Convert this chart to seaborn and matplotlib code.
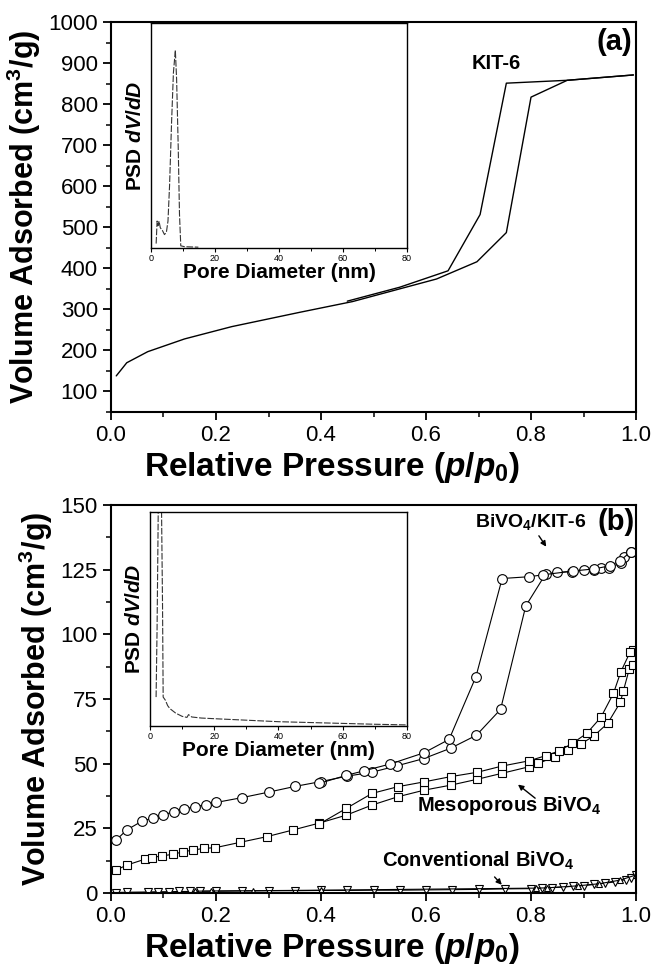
import matplotlib
matplotlib.use("Agg")
import matplotlib.pyplot as plt
import seaborn as sns
from matplotlib.ticker import MultipleLocator

sns.set_style("ticks")
plt.rcParams['font.family'] = ['Liberation Sans', 'DejaVu Sans']
plt.rcParams['mathtext.fontset'] = 'custom'
plt.rcParams['mathtext.rm'] = 'Liberation Sans:bold'
plt.rcParams['mathtext.bf'] = 'Liberation Sans:bold'
plt.rcParams['mathtext.it'] = 'Liberation Sans:bold:italic'
plt.rcParams['mathtext.sf'] = 'Liberation Sans:bold'
for key in ('text.color', 'axes.labelcolor', 'xtick.color', 'ytick.color', 'axes.edgecolor'):
    plt.rcParams[key] = 'black'

# (a) KIT-6 isotherm
kit_ads_p = [0.01, 0.03, 0.07, 0.14, 0.23, 0.36, 0.46, 0.55, 0.62, 0.697, 0.753, 0.80, 0.869, 0.995]
kit_ads_v = [138, 170, 197, 228, 258, 293, 319, 350, 374, 416, 487, 817, 858, 871]
kit_des_p = [0.995, 0.869, 0.753, 0.703, 0.642, 0.55, 0.45]
kit_des_v = [871, 858, 851, 531, 394, 354, 320]

# (a) inset PSD
kit_psd_d = [1.6, 1.9, 2.2, 2.5, 2.9, 3.5, 4.2, 4.8, 5.3, 5.8, 6.4, 7.0, 7.6, 8.0, 8.5, 8.9, 9.3, 10.5, 12.5, 14.8]
kit_psd_v = [0.02, 0.12, 0.10, 0.12, 0.09, 0.08, 0.06, 0.07, 0.12, 0.28, 0.55, 0.78, 0.88, 0.75, 0.45, 0.15, 0.01, 0.006, 0.005, 0.004]

# (b) BiVO4/KIT-6 (circles)
cir_ads_p = [0.01, 0.03, 0.06, 0.08, 0.10, 0.12, 0.14, 0.16, 0.18, 0.20, 0.25, 0.30, 0.35, 0.40, 0.45, 0.497,
             0.545, 0.596, 0.647, 0.696, 0.742, 0.79, 0.828, 0.85, 0.879, 0.90, 0.92, 0.933, 0.949, 0.971, 0.978, 0.99]
cir_ads_v = [20.5, 24.4, 27.9, 28.9, 30.2, 31.5, 32.5, 33.4, 34.1, 35.0, 36.9, 39.0, 41.2, 43.1, 45.2, 46.7,
             49.2, 52.0, 56.0, 61.0, 71.0, 111.0, 123.4, 124.0, 124.3, 125.0, 124.7, 125.8, 125.8, 127.6, 130.0, 132.0]
cir_des_p = [0.99, 0.97, 0.95, 0.92, 0.88, 0.822, 0.797, 0.745, 0.695, 0.644, 0.596, 0.532, 0.481, 0.448, 0.397]
cir_des_v = [132.0, 128.5, 126.5, 125.3, 124.5, 123.0, 122.3, 121.6, 83.6, 59.4, 54.2, 49.9, 47.2, 45.5, 42.4]

# (b) Mesoporous BiVO4 (squares)
sq_ads_p = [0.01, 0.03, 0.065, 0.078, 0.098, 0.119, 0.138, 0.157, 0.177, 0.198, 0.246, 0.297, 0.347, 0.396,
            0.448, 0.497, 0.546, 0.597, 0.647, 0.698, 0.745, 0.796, 0.814, 0.845, 0.87, 0.895, 0.92, 0.946,
            0.97, 0.976, 0.987, 0.995]
sq_ads_v = [8.9, 10.8, 13.1, 13.7, 14.4, 15.0, 16.0, 16.6, 17.3, 17.5, 19.6, 21.8, 24.4, 27.0,
            30.1, 34.0, 37.2, 39.8, 41.7, 44.0, 46.3, 48.8, 50.1, 52.7, 55.3, 57.6, 60.8, 65.6,
            73.7, 78.2, 86.5, 88.0]
sq_des_p = [0.995, 0.989, 0.971, 0.957, 0.933, 0.906, 0.879, 0.853, 0.828, 0.796, 0.745, 0.698, 0.647,
            0.597, 0.546, 0.497, 0.448, 0.396]
sq_des_v = [94.0, 93.3, 85.5, 77.2, 67.9, 61.7, 57.9, 54.9, 53.1, 51.1, 49.1, 46.7, 45.0,
            43.0, 41.1, 38.5, 32.7, 26.6]

# (b) Conventional BiVO4 (triangles)
tri_ads_p = [0.01, 0.03, 0.07, 0.09, 0.11, 0.13, 0.15, 0.17, 0.2, 0.25, 0.3, 0.35, 0.4, 0.45, 0.5, 0.55,
             0.6, 0.65, 0.7, 0.75, 0.8, 0.82, 0.84, 0.86, 0.88, 0.9, 0.92, 0.94, 0.96, 0.98, 0.99, 1.0]
tri_ads_v = [0.2, 0.3, 0.4, 0.5, 0.5, 0.6, 0.6, 0.7, 0.7, 0.8, 0.9, 0.9, 1.0, 1.0, 1.1, 1.1,
             1.2, 1.3, 1.4, 1.6, 1.7, 1.9, 2.1, 2.3, 2.6, 2.9, 3.3, 3.8, 4.3, 5.2, 5.9, 6.8]
tri_des_p = [1.0, 0.97, 0.93, 0.89, 0.83, 0.81, 0.4, 0.27, 0.19, 0.16]
tri_des_v = [7.0, 5.0, 3.6, 2.8, 2.0, 1.9, 1.1, 0.9, 0.8, 0.7]

# (b) inset PSD
bv_psd_d = [1.9, 2.2, 2.5, 2.8, 3.2, 3.6, 3.9, 4.1, 4.8, 5.5, 6.2, 8, 10, 11.5, 12, 13, 16, 20, 30, 40, 50, 60, 70, 80]
bv_psd_v = [0.135, 0.45, 0.9, 1.4, 1.6, 1.0, 0.57, 0.135, 0.12, 0.095, 0.081, 0.06, 0.045, 0.04, 0.053, 0.042,
            0.037, 0.034, 0.027, 0.02, 0.016, 0.012, 0.008, 0.005]

fig = plt.figure(figsize=(6.51, 9.69), dpi=100)
ax_a = fig.add_axes([0.1705, 0.5748, 0.8065, 0.4025])
ax_b = fig.add_axes([0.1705, 0.0784, 0.8065, 0.4004])
ins_a = fig.add_axes([0.232, 0.744, 0.393, 0.232])
ins_b = fig.add_axes([0.2304, 0.2508, 0.3948, 0.221])

xlabel = r'Relative Pressure ($p/p_0$)'
ylabel = r'Volume Adsorbed (cm$^3$/g)'

for ax in (ax_a, ax_b):
    for s in ax.spines.values():
        s.set_linewidth(1.5)
    ax.set_xlim(0, 1.0)
    ax.xaxis.set_major_locator(MultipleLocator(0.2))
    ax.xaxis.set_minor_locator(MultipleLocator(0.1))
    ax.xaxis.set_major_formatter(matplotlib.ticker.FormatStrFormatter('%.1f'))
    ax.tick_params(which='major', direction='out', length=6, width=1.3, labelsize=16, top=False, right=False)
    ax.tick_params(which='minor', direction='out', length=3.5, width=1.1, top=False, right=False)
    ax.set_xlabel(xlabel, fontsize=24, fontweight='bold')
    ax.xaxis.set_label_coords(0.42, -0.098)
    ax.set_ylabel(ylabel, fontsize=22, fontweight='bold', labelpad=4)

# panel (a)
sns.lineplot(x=kit_ads_p, y=kit_ads_v, sort=False, estimator=None, color='k', lw=1.0, ax=ax_a)
sns.lineplot(x=kit_des_p, y=kit_des_v, sort=False, estimator=None, color='k', lw=1.0, ax=ax_a)
ax_a.set_ylim(50, 1000)
ax_a.yaxis.set_minor_locator(MultipleLocator(50))
ax_a.set_yticks(range(100, 1001, 100))
ax_a.text(0.733, 900, 'KIT-6', fontsize=14.5, fontweight='bold', ha='center', va='center')
ax_a.text(0.958, 952, '(a)', fontsize=21, fontweight='bold', ha='center', va='center')

# panel (b)
mk = dict(color='k', lw=0.8, markerfacecolor='white', markeredgecolor='k', markeredgewidth=0.8)
sns.lineplot(x=cir_ads_p, y=cir_ads_v, sort=False, estimator=None, marker='o', markersize=7, ax=ax_b, **mk)
sns.lineplot(x=cir_des_p, y=cir_des_v, sort=False, estimator=None, marker='o', markersize=7, ax=ax_b, **mk)
sns.lineplot(x=sq_ads_p, y=sq_ads_v, sort=False, estimator=None, marker='s', markersize=5.5, ax=ax_b, **mk)
sns.lineplot(x=sq_des_p, y=sq_des_v, sort=False, estimator=None, marker='s', markersize=5.5, ax=ax_b, **mk)
sns.lineplot(x=tri_ads_p, y=tri_ads_v, sort=False, estimator=None, marker='v', markersize=6, ax=ax_b, **mk)
sns.lineplot(x=tri_des_p, y=tri_des_v, sort=False, estimator=None, marker='^', markersize=5, ax=ax_b, **mk)
ax_b.set_ylim(0, 150)
ax_b.yaxis.set_major_locator(MultipleLocator(25))
ax_b.yaxis.set_minor_locator(MultipleLocator(12.5))
ax_b.text(0.962, 143.5, '(b)', fontsize=21, fontweight='bold', ha='center', va='center')
ax_b.text(0.80, 143.4, r'BiVO$_4$/KIT-6', fontsize=14, fontweight='bold', ha='center', va='center')
ax_b.annotate('', xy=(0.832, 133), xytext=(0.812, 139),
              arrowprops=dict(arrowstyle='-|>', color='k', lw=1.0, mutation_scale=8))
ax_b.text(0.758, 34, r'Mesoporous BiVO$_4$', fontsize=14.5, fontweight='bold', ha='center', va='center')
ax_b.annotate('', xy=(0.771, 42.6), xytext=(0.812, 36),
              arrowprops=dict(arrowstyle='-|>', color='k', lw=1.0, mutation_scale=8))
ax_b.text(0.70, 12.5, r'Conventional BiVO$_4$', fontsize=14.5, fontweight='bold', ha='center', va='center')
ax_b.annotate('', xy=(0.748, 2.4), xytext=(0.727, 7.0),
              arrowprops=dict(arrowstyle='-|>', color='k', lw=1.0, mutation_scale=8))

# insets
for ins in (ins_a, ins_b):
    for s in ins.spines.values():
        s.set_linewidth(1.0)
    ins.set_xlim(0, 80)
    ins.set_ylim(0, 1)
    ins.set_yticks([])
    ins.xaxis.set_major_locator(MultipleLocator(20))
    ins.xaxis.set_minor_locator(MultipleLocator(10))
    ins.tick_params(which='major', direction='out', length=3, width=0.8, labelsize=6.5, pad=1, top=False)
    ins.tick_params(which='minor', direction='out', length=2, width=0.7, top=False)
    ins.set_xlabel('Pore Diameter (nm)', fontsize=15, fontweight='bold', labelpad=0)
    ins.set_ylabel(r'PSD $dV/dD$', fontsize=15, fontweight='bold', labelpad=4)
    ins.patch.set_facecolor('white')

sns.lineplot(x=kit_psd_d, y=kit_psd_v, sort=False, estimator=None, color='#333333', lw=0.8,
             linestyle=(0, (6, 1.5)), ax=ins_a)
sns.lineplot(x=bv_psd_d, y=bv_psd_v, sort=False, estimator=None, color='#333333', lw=0.8,
             linestyle=(0, (6, 1.5)), ax=ins_b)

fig.savefig('out.png', dpi=100)
